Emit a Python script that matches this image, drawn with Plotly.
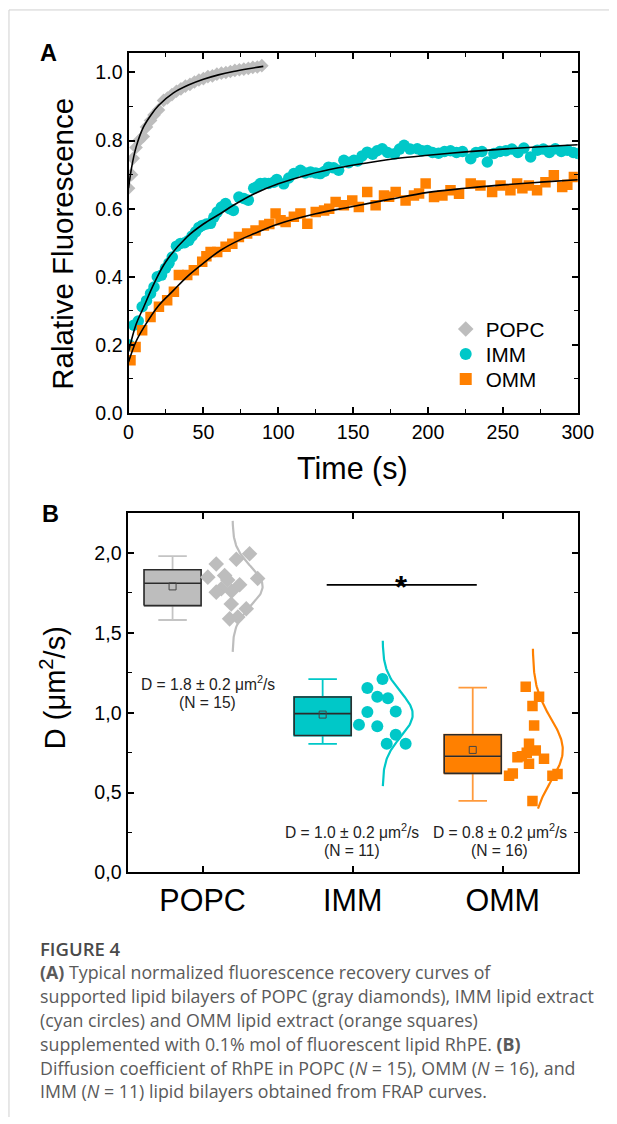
import numpy as np
import plotly.graph_objects as go

# ---------------- Panel A data (time in s, relative fluorescence) ----------------
popc_t = [0, 2, 3.1, 5, 7, 9.8, 12, 14.7, 17, 20, 23.4, 26, 29, 32, 35, 38, 41, 44, 47, 50,
          53, 56, 59, 62, 65, 68, 71, 74, 77, 80, 83, 86, 89]
popc_v = [0.66, 0.70, 0.748, 0.78, 0.80, 0.812, 0.84, 0.859, 0.875, 0.89, 0.918, 0.925, 0.935,
          0.945, 0.952, 0.96, 0.965, 0.972, 0.978, 0.982, 0.988, 0.99, 0.995, 0.998, 1.0, 1.003,
          1.006, 1.008, 1.01, 1.012, 1.015, 1.016, 1.02]

imm_t = [0.5, 3.5, 6.5, 9.1, 12, 14.7, 17, 19.2, 22, 24.7, 27, 29.2, 32, 34.7, 37.5, 40.3, 42.5,
         44.8, 47, 49.2, 52, 54.8, 57, 59.2, 62, 64.8, 67.5, 70, 73.7, 77, 80, 83.6, 86, 88, 91,
         93.5, 97, 99, 103.6, 107, 110.4, 114.8, 118, 121.5, 125, 128, 131, 133.6, 137, 140.3,
         143.8, 147, 150.5, 153, 156, 159.4, 163, 166, 169.4, 173, 177.7, 181, 184, 188, 192.8,
         196, 199.5, 203, 207, 211, 215, 219, 223, 228.5, 232, 236, 239.6, 244, 248, 252, 256,
         260, 264, 268.5, 273, 277, 281, 285, 289, 293, 297, 300]
imm_v = [0.20, 0.258, 0.27, 0.312, 0.33, 0.351, 0.37, 0.40, 0.405, 0.425, 0.44, 0.458, 0.49,
         0.498, 0.50, 0.507, 0.52, 0.532, 0.545, 0.551, 0.555, 0.557, 0.575, 0.590, 0.605, 0.615,
         0.60, 0.595, 0.634, 0.63, 0.625, 0.66, 0.665, 0.674, 0.675, 0.674, 0.678, 0.686, 0.673,
         0.69, 0.703, 0.713, 0.705, 0.708, 0.705, 0.703, 0.71, 0.722, 0.72, 0.713, 0.742, 0.735,
         0.742, 0.74, 0.755, 0.766, 0.76, 0.77, 0.776, 0.765, 0.761, 0.775, 0.786, 0.775, 0.776,
         0.77, 0.771, 0.765, 0.763, 0.768, 0.77, 0.765, 0.768, 0.747, 0.765, 0.768, 0.737, 0.762,
         0.768, 0.77, 0.775, 0.765, 0.778, 0.752, 0.772, 0.775, 0.765, 0.776, 0.768, 0.772, 0.765,
         0.762]

omm_t = [1.3, 4.7, 9.1, 14.7, 20.3, 25.8, 30.3, 33.6, 39.2, 43.6, 49.2, 52, 54.8, 59.2, 64.8,
         69.3, 73.7, 79.2, 84.8, 90.4, 94, 98.2, 101.5, 104.9, 110.4, 114.8, 119.4, 125, 130.6,
         134, 138.3, 143.8, 149.4, 153.8, 159.4, 165, 170.6, 174, 178.4, 185, 190.6, 194, 198.4,
         204, 209.6, 215, 220.7, 228.5, 235, 242.8, 248.4, 255, 259.5, 263, 267.3, 272.8, 278.4,
         284, 289.6, 293, 297.4]
omm_v = [0.155, 0.194, 0.243, 0.282, 0.312, 0.331, 0.356, 0.405, 0.405, 0.419, 0.444, 0.46,
         0.473, 0.473, 0.488, 0.497, 0.517, 0.527, 0.536, 0.551, 0.555, 0.586, 0.566, 0.561,
         0.576, 0.586, 0.556, 0.590, 0.595, 0.60, 0.620, 0.610, 0.624, 0.605, 0.649, 0.610,
         0.639, 0.635, 0.649, 0.624, 0.639, 0.645, 0.674, 0.634, 0.639, 0.654, 0.644, 0.674,
         0.668, 0.649, 0.668, 0.654, 0.674, 0.66, 0.668, 0.654, 0.678, 0.698, 0.664, 0.67, 0.693]

# fitted recovery curves
popc_fit_t = [0, 2, 5, 10, 15, 20, 30, 40, 50, 60, 70, 80, 90]
popc_fit_v = [0.66, 0.72, 0.78, 0.84, 0.875, 0.903, 0.940, 0.963, 0.980, 0.993, 1.003, 1.011, 1.018]
imm_fit_t = [0, 5, 10, 17, 25, 39, 50, 61.5, 70, 84, 100, 120, 140, 160, 180, 200, 225, 250, 275, 300]
imm_fit_v = [0.18, 0.26, 0.31, 0.38, 0.445, 0.517, 0.555, 0.586, 0.61, 0.644, 0.673, 0.70, 0.72,
             0.735, 0.748, 0.757, 0.767, 0.775, 0.782, 0.788]
omm_fit_t = [0, 5, 10, 20, 30, 39, 50, 61.5, 75, 84, 100, 125, 148, 175, 200, 225, 250, 275, 300]
omm_fit_v = [0.15, 0.21, 0.25, 0.315, 0.36, 0.40, 0.44, 0.478, 0.51, 0.527, 0.555, 0.585, 0.605,
             0.628, 0.648, 0.66, 0.67, 0.678, 0.685]

# ---------------- Panel B data (diffusion coefficients, µm²/s) ----------------
categories = ["POPC", "IMM", "OMM"]
popc_D = [1.994, 1.96, 1.93, 1.858, 1.848, 1.84, 1.83, 1.80, 1.775, 1.76, 1.754, 1.68, 1.65, 1.598, 1.587]
popc_jit = [0.313, 0.225, 0.091, 0.147, 0.035, 0.367, 0.167, 0.247, 0.125, 0.193, 0.091, 0.191, 0.291, 0.235, 0.18]
imm_D = [1.21, 1.155, 1.10, 1.09, 1.004, 1.008, 0.925, 0.915, 0.862, 0.805, 0.805]
imm_jit = [0.199, 0.098, 0.164, 0.235, 0.098, 0.287, 0.042, 0.164, 0.287, 0.227, 0.353]
omm_D = [1.162, 1.099, 1.042, 0.920, 0.805, 0.763, 0.750, 0.727, 0.721, 0.711, 0.680, 0.620,
         0.606, 0.606, 0.616, 0.448]
omm_jit = [0.153, 0.242, 0.198, 0.209, 0.175, 0.22, 0.16, 0.127, 0.098, 0.275, 0.175, 0.067,
           0.042, 0.331, 0.365, 0.198]

box_q1 = [1.67, 0.857, 0.62]
box_median = [1.81, 0.994, 0.727]
box_q3 = [1.894, 1.098, 0.862]
box_low = [1.58, 0.805, 0.448]
box_high = [1.98, 1.21, 1.157]
box_mean = [1.79, 0.988, 0.767]
curve_lo = [1.38, 0.54, 0.40]
curve_hi = [2.20, 1.45, 1.40]
sig_x = [1.827, 2.827]
sig_y = [1.80, 1.80]

d_labels = ["D = 1.8 ± 0.2 μm<sup>2</sup>/s", "D = 1.0 ± 0.2 μm<sup>2</sup>/s", "D = 0.8 ± 0.2 μm<sup>2</sup>/s"]
n_labels = ["(N = 15)", "(N = 11)", "(N = 16)"]

# ---------------- layout helpers ----------------
# body margin of the page and the measured scale of the photographed window
OFF = 8
SX, AX = 0.9657, 4.8
SY, AY = 0.9913, -0.4
W, H = 622, 1120
FONT = "Liberation Sans, Arial, sans-serif"


def fx(d):
    """target picture x (px) -> paper fraction"""
    return ((d - AX) / SX - OFF) / W


def fy(d):
    """target picture y (px, from top) -> paper fraction"""
    return 1 - ((d - AY) / SY - OFF) / H


GRAY = "#bdbdbd"
GRAY_W = "#c4c4c4"
CYAN = "#00c8c8"
ORANGE = "#ff8000"
ORANGE_W = "#ff9a3c"
point_colors = [GRAY, CYAN, ORANGE]
whisker_colors = [GRAY_W, CYAN, ORANGE_W]
symbols = ["diamond", "circle", "square"]
psizes = [12, 12, 10.5]

fig = go.Figure()

# Panel A
for name, t, v, col, sym, sz, lg in [("POPC", popc_t, popc_v, GRAY, "diamond", 10.5, "legend"),
                                     ("IMM", imm_t, imm_v, CYAN, "circle", 11.5, "legend2"),
                                     ("OMM", omm_t, omm_v, ORANGE, "square", 10.5, "legend3")]:
    fig.add_trace(go.Scatter(x=t, y=v, mode="markers", name=name, legend=lg,
                             marker=dict(symbol=sym, color=col, size=sz, line=dict(width=0)),
                             xaxis="x", yaxis="y"))
for t, v in [(popc_fit_t, popc_fit_v), (imm_fit_t, imm_fit_v), (omm_fit_t, omm_fit_v)]:
    fig.add_trace(go.Scatter(x=t, y=v, mode="lines", line=dict(color="black", width=1.6, shape="spline"),
                             showlegend=False, hoverinfo="skip", xaxis="x", yaxis="y"))

# Panel B
groups = [(popc_D, popc_jit), (imm_D, imm_jit), (omm_D, omm_jit)]
for i, (vals, jit) in enumerate(groups):
    c = i + 1
    fig.add_trace(go.Box(x=[c - 0.2], q1=[box_q1[i]], median=[box_median[i]], q3=[box_q3[i]],
                         lowerfence=[box_low[i]], upperfence=[box_high[i]], width=0.38,
                         whiskerwidth=0.5, fillcolor=point_colors[i],
                         line=dict(color=whisker_colors[i], width=1.8), boxpoints=False,
                         showlegend=False, hoverinfo="skip", xaxis="x2", yaxis="y2"))
    x0, x1 = c - 0.39, c - 0.01
    fig.add_trace(go.Scatter(x=[x0, x1, x1, x0, x0, None, x0, x1],
                             y=[box_q1[i], box_q1[i], box_q3[i], box_q3[i], box_q1[i], None,
                                box_median[i], box_median[i]],
                             mode="lines", line=dict(color="#2b2b2b", width=1.6),
                             showlegend=False, hoverinfo="skip", xaxis="x2", yaxis="y2"))
    fig.add_trace(go.Scatter(x=[c - 0.2], y=[box_mean[i]], mode="markers",
                             marker=dict(symbol="square-open", size=7, color="#444", line=dict(width=1)),
                             showlegend=False, hoverinfo="skip", xaxis="x2", yaxis="y2"))
    fig.add_trace(go.Scatter(x=[c + j for j in jit], y=vals, mode="markers",
                             marker=dict(symbol=symbols[i], color=point_colors[i], size=psizes[i],
                                         line=dict(width=0)),
                             showlegend=False, hoverinfo="skip", xaxis="x2", yaxis="y2"))
    # normal distribution curve derived from the data
    m = float(np.mean(vals))
    s = float(np.std(vals, ddof=1))
    yy = np.linspace(curve_lo[i], curve_hi[i], 120)
    xx = c + 0.2 + 0.2 * np.exp(-((yy - m) ** 2) / (2 * s * s))
    fig.add_trace(go.Scatter(x=xx, y=yy, mode="lines", line=dict(color=point_colors[i], width=2.2),
                             showlegend=False, hoverinfo="skip", xaxis="x2", yaxis="y2"))

fig.add_trace(go.Scatter(x=sig_x, y=sig_y, mode="lines", line=dict(color="black", width=1.8),
                         showlegend=False, hoverinfo="skip", xaxis="x2", yaxis="y2"))

axis_common = dict(showline=True, linecolor="black", linewidth=2, mirror="ticks", ticks="inside",
                   ticklen=6, tickwidth=1.6, tickcolor="black", showgrid=False, zeroline=False,
                   tickfont=dict(family=FONT, size=19.6, color="black"))

leg_common = dict(xanchor="left", yanchor="middle", bgcolor="rgba(0,0,0,0)",
                  font=dict(family=FONT, size=20.7, color="black"), itemsizing="constant")

fig.update_layout(
    width=W, height=H, margin=dict(l=0, r=0, t=0, b=0),
    paper_bgcolor="white", plot_bgcolor="white",
    font=dict(family=FONT, color="black"),
    xaxis=dict(domain=[fx(128), fx(577)], range=[0, 300], dtick=50, anchor="y",
               minor=dict(ticks="inside", ticklen=4, dtick=25, tickwidth=1.4, tickcolor="black"),
               **axis_common),
    yaxis=dict(domain=[fy(413), fy(53)], range=[0, 1.056], dtick=0.2, tickformat=".1f", anchor="x",
               minor=dict(ticks="inside", ticklen=4, dtick=0.1, tickwidth=1.4, tickcolor="black"),
               **axis_common),
    xaxis2=dict(domain=[fx(127), fx(577)], range=[0.5, 3.5], tickvals=[1, 2, 3], ticktext=categories,
                anchor="y2", **{**axis_common, "tickfont": dict(family=FONT, size=30.5, color="black")}),
    yaxis2=dict(domain=[fy(873), fy(513)], range=[0, 2.25], tickvals=[0, 0.5, 1.0, 1.5, 2.0],
                ticktext=["0,0", "0,5", "1,0", "1,5", "2,0"], anchor="x2",
                minor=dict(ticks="inside", ticklen=4, dtick=0.25, tickwidth=1.4, tickcolor="black"),
                **axis_common),
    legend=dict(x=fx(445), y=fy(329), **leg_common),
    legend2=dict(x=fx(445), y=fy(354), **leg_common),
    legend3=dict(x=fx(445), y=fy(379), **leg_common),
    showlegend=True,
)

ann = []
ann.append(dict(x=fx(48), y=fy(53), text="<b>A</b>", font=dict(family=FONT, size=23.5, color="black")))
ann.append(dict(x=fx(50), y=fy(514), text="<b>B</b>", font=dict(family=FONT, size=23.5, color="black")))
ann.append(dict(x=fx(62), y=fy(244), text="Ralative Fluorescence", textangle=-90,
                font=dict(family=FONT, size=29.5, color="black")))
ann.append(dict(x=fx(352), y=fy(469), text="Time (s)", font=dict(family=FONT, size=30.5, color="black")))
ann.append(dict(x=fx(52), y=fy(688), text="D (μm<sup>2</sup>/s)", textangle=-90,
                font=dict(family=FONT, size=29, color="black")))
for cx, cy, i in [(207, 683, 0), (351, 831, 1), (499, 831, 2)]:
    ann.append(dict(x=fx(cx), y=fy(cy), text=d_labels[i], font=dict(family=FONT, size=15.6, color="#222")))
    ann.append(dict(x=fx(cx), y=fy(cy + 19.5), text=n_labels[i],
                    font=dict(family=FONT, size=15.6, color="#222")))
ann.append(dict(x=fx(401), y=fy(588), text="<b>*</b>", font=dict(family=FONT, size=31, color="black")))

CAP = "Open Sans, Noto Sans, sans-serif"
cap_lines = [
    "<b>(A)</b> Typical normalized fluorescence recovery curves of",
    "supported lipid bilayers of POPC (gray diamonds), IMM lipid extract",
    "(cyan circles) and OMM lipid extract (orange squares)",
    "supplemented with 0.1% mol of fluorescent lipid RhPE. <b>(B)</b>",
    "Diffusion coefficient of RhPE in POPC (<i>N</i> = 15), OMM (<i>N</i> = 16), and",
    "IMM (<i>N</i> = 11) lipid bilayers obtained from FRAP curves.",
]
ann.append(dict(x=fx(38), y=fy(949), text="FIGURE 4", xanchor="left",
                font=dict(family=CAP, size=18.5, color="#4a4a4a", weight=600)))
for k, line in enumerate(cap_lines):
    ann.append(dict(x=fx(38), y=fy(972.7 + 23.9 * k), text=line, xanchor="left",
                    font=dict(family=CAP, size=17.8, color="#5a5a5a")))

for a in ann:
    a.setdefault("xanchor", "center")
    a.update(xref="paper", yref="paper", yanchor="middle", showarrow=False)
fig.update_layout(annotations=ann)

fig.update_layout(shapes=[
    dict(type="line", xref="paper", yref="paper", x0=fx(8.5), x1=1, y0=fy(9.5), y1=fy(9.5),
         line=dict(color="#d0d0d0", width=1)),
    dict(type="line", xref="paper", yref="paper", x0=fx(8.5), x1=fx(8.5), y0=fy(9.5), y1=0,
         line=dict(color="#d0d0d0", width=1)),
])

fig.write_html("out.html")
